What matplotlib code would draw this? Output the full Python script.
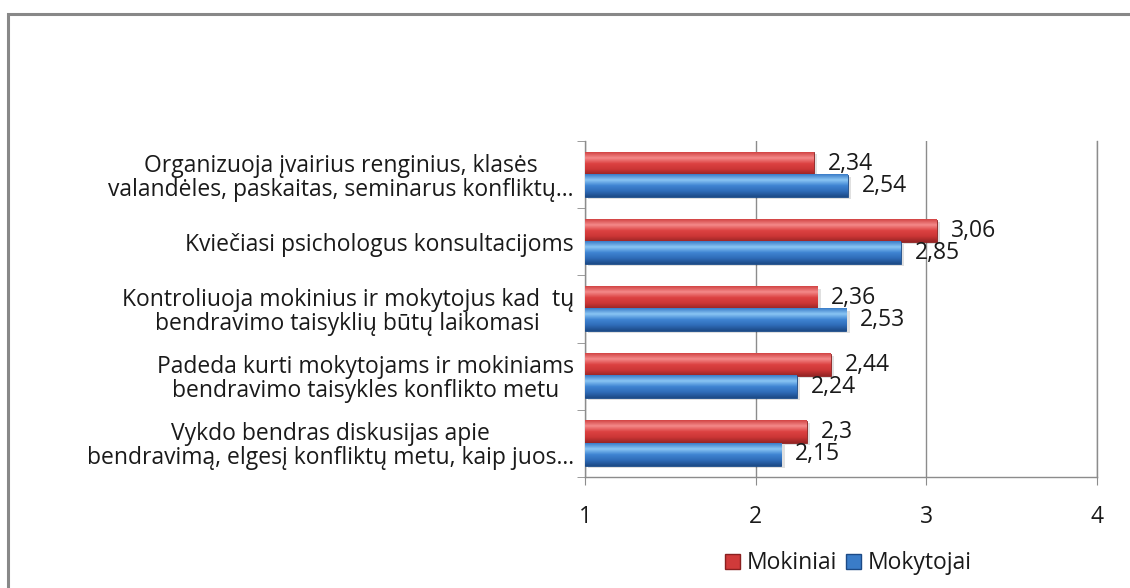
import numpy as np
import matplotlib.pyplot as plt
from matplotlib.patches import Rectangle, Patch
from matplotlib.colors import LinearSegmentedColormap

categories = [
    "Organizuoja įvairius renginius, klasės\nvalandėles, paskaitas, seminarus konfliktų...",
    "Kviečiasi psichologus konsultacijoms",
    "Kontroliuoja mokinius ir mokytojus kad  tų\nbendravimo taisyklių būtų laikomasi",
    "Padeda kurti mokytojams ir mokiniams\nbendravimo taisykles konflikto metu",
    "Vykdo bendras diskusijas apie\nbendravimą, elgesį konfliktų metu, kaip juos...",
]
mokiniai = [2.34, 3.06, 2.36, 2.44, 2.3]
mokytojai = [2.54, 2.85, 2.53, 2.24, 2.15]
series_names = ["Mokiniai", "Mokytojai"]

plt.rcParams['font.family'] = ['Open Sans', 'DejaVu Sans']
txt_color = '#1a1a1a'
grid_color = '#8c8c8c'
fs = 16.5

red_cmap = LinearSegmentedColormap.from_list(
    'r3d', ['#962424', '#cc3636', '#dc4242', '#f48a8a', '#d24444'])
blue_cmap = LinearSegmentedColormap.from_list(
    'b3d', ['#1c4a86', '#2f6cb8', '#3f84d2', '#8ac6f4', '#3a7cc8'])

fig = plt.figure(figsize=(11.3, 5.88), dpi=100)
ax = fig.add_axes([0.5177, 0.1888, 0.4531, 0.5714])

# outer chart border (top and left visible)
fig.patches.append(Rectangle((8 / 1130, -0.1), 1.2, 1 - 14 / 588 + 0.1,
                             transform=fig.transFigure, fill=False,
                             edgecolor='#888888', lw=2.2))

n = len(categories)
ypos = np.arange(n)[::-1]
h = 0.33
left = 1

bars_r = ax.barh(ypos + h / 2, np.array(mokiniai) - left, height=h, left=left,
                 color='#d03a3a', edgecolor='#8a2020', lw=0.6, zorder=3)
bars_b = ax.barh(ypos - h / 2, np.array(mokytojai) - left, height=h, left=left,
                 color='#3a7cc8', edgecolor='#1c4a86', lw=0.6, zorder=3)

# gradient overlay for a 3D look
grad = np.linspace(0, 1, 64).reshape(-1, 1)
for bars, cmap in ((bars_r, red_cmap), (bars_b, blue_cmap)):
    for b in bars:
        x0, y0, w, hh = b.get_x(), b.get_y(), b.get_width(), b.get_height()
        ax.imshow(grad, cmap=cmap, aspect='auto', origin='lower',
                  extent=(x0, x0 + w, y0, y0 + hh), zorder=3.5)
        # thin shadow under bar
        ax.add_patch(Rectangle((x0 + 0.02, y0 - 0.03), w, hh, color='#000000',
                               alpha=0.12, lw=0, zorder=2.5))

def fmt(v):
    return ('%g' % v).replace('.', ',')

for bars, vals in ((bars_r, mokiniai), (bars_b, mokytojai)):
    for b, v in zip(bars, vals):
        ax.annotate(fmt(v), (v, b.get_y() + b.get_height() / 2),
                    xytext=(10, 0), textcoords='offset points',
                    ha='left', va='center', fontsize=fs, color=txt_color,
                    zorder=5)

ax.set_xlim(1, 4)
ax.set_ylim(-0.5, n - 0.5)
ax.set_xticks([1, 2, 3, 4])
ax.set_yticks(ypos)
ax.set_yticklabels(categories, multialignment='center', linespacing=1.0)
ax.set_yticks(np.arange(n + 1) - 0.5, minor=True)

ax.tick_params(axis='y', which='major', length=0, pad=8, labelsize=fs,
               labelcolor=txt_color)
ax.tick_params(axis='y', which='minor', length=6, color=grid_color, direction='out')
ax.tick_params(axis='x', length=6, color=grid_color, direction='out', pad=14,
               labelsize=fs, labelcolor=txt_color)

ax.xaxis.grid(True, color=grid_color, lw=1, zorder=0)
ax.set_axisbelow(True)
ax.spines['top'].set_visible(False)
for s in ('left', 'bottom', 'right'):
    ax.spines[s].set_color(grid_color)
    ax.spines[s].set_linewidth(1)

handles = [Patch(facecolor='#d03a3a', edgecolor='#8a2020'),
           Patch(facecolor='#3a7cc8', edgecolor='#1c4a86')]
fig.legend(handles, series_names, loc='center', bbox_to_anchor=(0.751, 0.042),
           ncol=2, frameon=False, fontsize=fs, handlelength=0.65,
           handleheight=0.65, handletextpad=0.3, columnspacing=0.4,
           labelcolor=txt_color)

fig.savefig('out.png', dpi=100)
